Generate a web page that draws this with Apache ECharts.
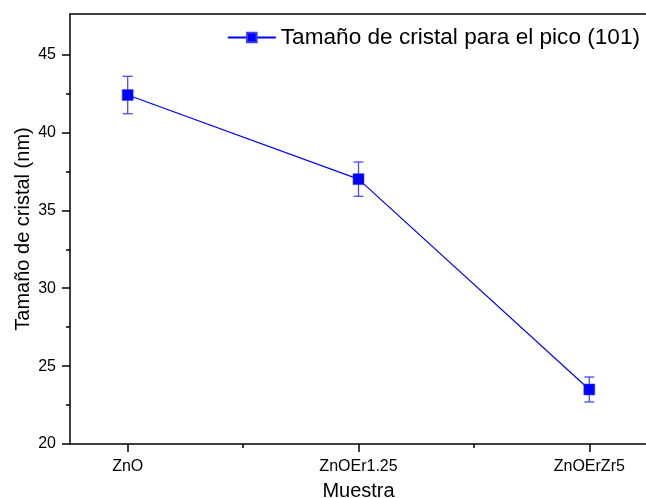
<!DOCTYPE html>
<html>
<head>
<meta charset="utf-8">
<script src="https://cdn.jsdelivr.net/npm/echarts@6/dist/echarts.min.js"></script>
<style>
  html, body { margin: 0; padding: 0; background: #fff; }
  #chart { width: 646px; height: 498px; }
</style>
</head>
<body>
<div id="chart"></div>
<script>
// Samples along the x axis and crystal size measured from the (101) peak
const categories = ['ZnO', 'ZnOEr1.25', 'ZnOErZr5'];
const crystalSize = [42.4, 37.0, 23.5];
const crystalError = [1.2, 1.1, 0.8];
const yTicks = [20, 25, 30, 35, 40, 45];
const seriesName = 'Tamaño de cristal para el pico (101)';

const FONT = '"Liberation Sans", Arial, sans-serif';
const BLUE = '#0000ff';

// Categories are placed at positions 1..n on a value axis
const positions = categories.map((_, i) => i + 1);
const points = positions.map((x, i) => [x, crystalSize[i]]);
const errors = positions.map((x, i) => [x, crystalSize[i] - crystalError[i], crystalSize[i] + crystalError[i]]);
const midPositions = positions.slice(0, -1).map(x => x + 0.5);
const xMin = 0.75, xMax = categories.length + 0.25;
const yMinor = yTicks.slice(0, -1).map(v => v + 2.5);

const chart = echarts.init(document.getElementById('chart'), null, { renderer: 'canvas' });

const baseX = { type: 'value', min: xMin, max: xMax, splitLine: { show: false } };
const baseY = { type: 'value', min: 20, max: 47.6, splitLine: { show: false } };

chart.setOption({
  animation: false,
  backgroundColor: '#fff',
  textStyle: { fontFamily: FONT },
  grid: { left: 70, top: 14, right: -1, bottom: 54, containLabel: false, outerBoundsMode: 'none' },
  legend: {
    data: [seriesName],
    right: 1,
    top: 21,
    itemWidth: 48,
    itemHeight: 12,
    itemGap: 4,
    textStyle: { fontSize: 22.6, color: '#000', fontFamily: FONT }
  },
  xAxis: [
    Object.assign({}, baseX, {
      position: 'bottom',
      name: 'Muestra',
      nameLocation: 'middle',
      nameGap: 37,
      nameTextStyle: { fontSize: 20, color: '#000', fontFamily: FONT },
      axisLine: { show: true, onZero: false, lineStyle: { color: '#000', width: 1.5 } },
      axisTick: { show: true, inside: false, length: 8, customValues: positions, lineStyle: { color: '#000', width: 1.5 } },
      axisLabel: {
        show: true, customValues: positions, margin: 15, fontSize: 16, color: '#000', fontFamily: FONT,
        formatter: v => categories[Math.round(v) - 1] || ''
      }
    }),
    // minor ticks halfway between categories
    Object.assign({}, baseX, {
      position: 'bottom',
      axisLine: { show: false },
      axisTick: { show: true, length: 4, customValues: midPositions, lineStyle: { color: '#000', width: 1.5 } },
      axisLabel: { show: false }
    }),
    // top border of the frame
    Object.assign({}, baseX, {
      position: 'top',
      axisLine: { show: true, onZero: false, lineStyle: { color: '#000', width: 1.5 } },
      axisTick: { show: false },
      axisLabel: { show: false }
    })
  ],
  yAxis: [
    Object.assign({}, baseY, {
      position: 'left',
      name: 'Tamaño de cristal (nm)',
      nameLocation: 'middle',
      nameGap: 37,
      nameMoveOverlap: false,
      nameTextStyle: { fontSize: 20, color: '#000', fontFamily: FONT },
      axisLine: { show: true, onZero: false, lineStyle: { color: '#000', width: 1.5 } },
      axisTick: { show: true, inside: false, length: 8, customValues: yTicks, lineStyle: { color: '#000', width: 1.5 } },
      axisLabel: { show: true, customValues: yTicks, margin: 14, fontSize: 16, color: '#000', fontFamily: FONT }
    }),
    Object.assign({}, baseY, {
      position: 'left',
      axisLine: { show: false },
      axisTick: { show: true, length: 4, customValues: yMinor, lineStyle: { color: '#000', width: 1.5 } },
      axisLabel: { show: false }
    })
  ],
  series: [
    {
      name: 'errorbars',
      type: 'custom',
      xAxisIndex: 0,
      yAxisIndex: 0,
      z: 2,
      data: errors,
      renderItem: function (params, api) {
        const x = api.value(0);
        const lo = api.coord([x, api.value(1)]);
        const hi = api.coord([x, api.value(2)]);
        const half = 5;
        const style = { stroke: '#4a4aff', lineWidth: 1.3, fill: null };
        return {
          type: 'group',
          children: [
            { type: 'line', shape: { x1: lo[0], y1: lo[1], x2: hi[0], y2: hi[1] }, style },
            { type: 'line', shape: { x1: lo[0] - half, y1: lo[1], x2: lo[0] + half, y2: lo[1] }, style },
            { type: 'line', shape: { x1: hi[0] - half, y1: hi[1], x2: hi[0] + half, y2: hi[1] }, style }
          ]
        };
      },
      silent: true
    },
    {
      name: seriesName,
      type: 'line',
      xAxisIndex: 0,
      yAxisIndex: 0,
      z: 3,
      data: points,
      symbol: 'rect',
      symbolSize: 11,
      lineStyle: { color: BLUE, width: 1.2 },
      itemStyle: { color: BLUE, borderColor: '#3a3aff', borderWidth: 0.5 }
    }
  ]
});
</script>
</body>
</html>
